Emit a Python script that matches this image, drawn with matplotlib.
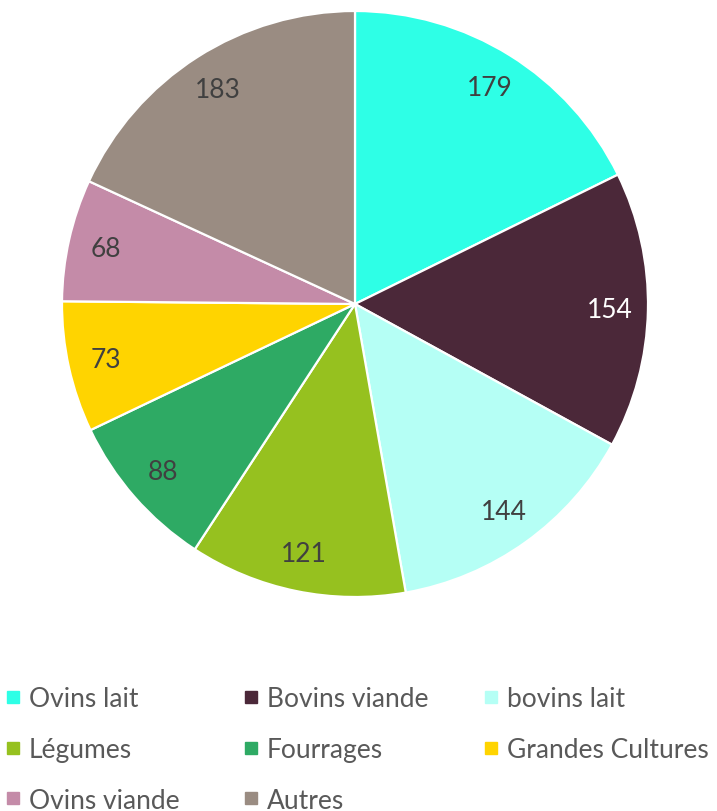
import matplotlib.pyplot as plt
from matplotlib.lines import Line2D

categories = ["Ovins lait", "Bovins viande", "bovins lait", "Légumes", "Fourrages",
              "Grandes Cultures", "Ovins viande", "Autres"]
values = [179, 154, 144, 121, 88, 73, 68, 183]
colors = ["#2EFFE6", "#4B2839", "#B5FFF5", "#96C11F", "#2EAA64",
          "#FFD400", "#C48BA8", "#9A8C82"]
label_colors = ["#404040", "white", "#404040", "#404040", "#404040",
                "#404040", "#404040", "#404040"]

plt.rcParams['font.family'] = ['Lato', 'DejaVu Sans']

fig = plt.figure(figsize=(7.17, 8.12), dpi=100)
ax = fig.add_axes([62 / 717, 214 / 812, 586 / 717, 586 / 812])

wedges, texts = ax.pie(values, colors=colors, startangle=90, counterclock=False,
                       labels=[str(v) for v in values], labeldistance=0.87,
                       wedgeprops=dict(edgecolor="white", linewidth=1.6),
                       textprops=dict(fontsize=19, ha="center", va="center"))
for t, c in zip(texts, label_colors):
    t.set_color(c)
    t.set_horizontalalignment("center")
ax.set_aspect("equal")
ax.set_xlim(-1, 1)
ax.set_ylim(-1, 1)

# legende : 3 colonnes, remplies ligne par ligne comme dans Excel
col_x = [4 / 717, 242 / 717, 482 / 717]
for c in range(3):
    handles = []
    labs = []
    for i in range(c, len(categories), 3):
        handles.append(Line2D([], [], marker="s", linestyle="none", markersize=8.6,
                              markerfacecolor=colors[i], markeredgecolor=colors[i]))
        labs.append(categories[i])
    fig.legend(handles, labs, loc="upper left", bbox_to_anchor=(col_x[c], 1 - 687 / 812),
               frameon=False, fontsize=19, labelcolor="#595959", handlelength=0.7,
               handletextpad=0.25, labelspacing=0.98, borderpad=0, borderaxespad=0)

fig.savefig("out.png", dpi=100)
